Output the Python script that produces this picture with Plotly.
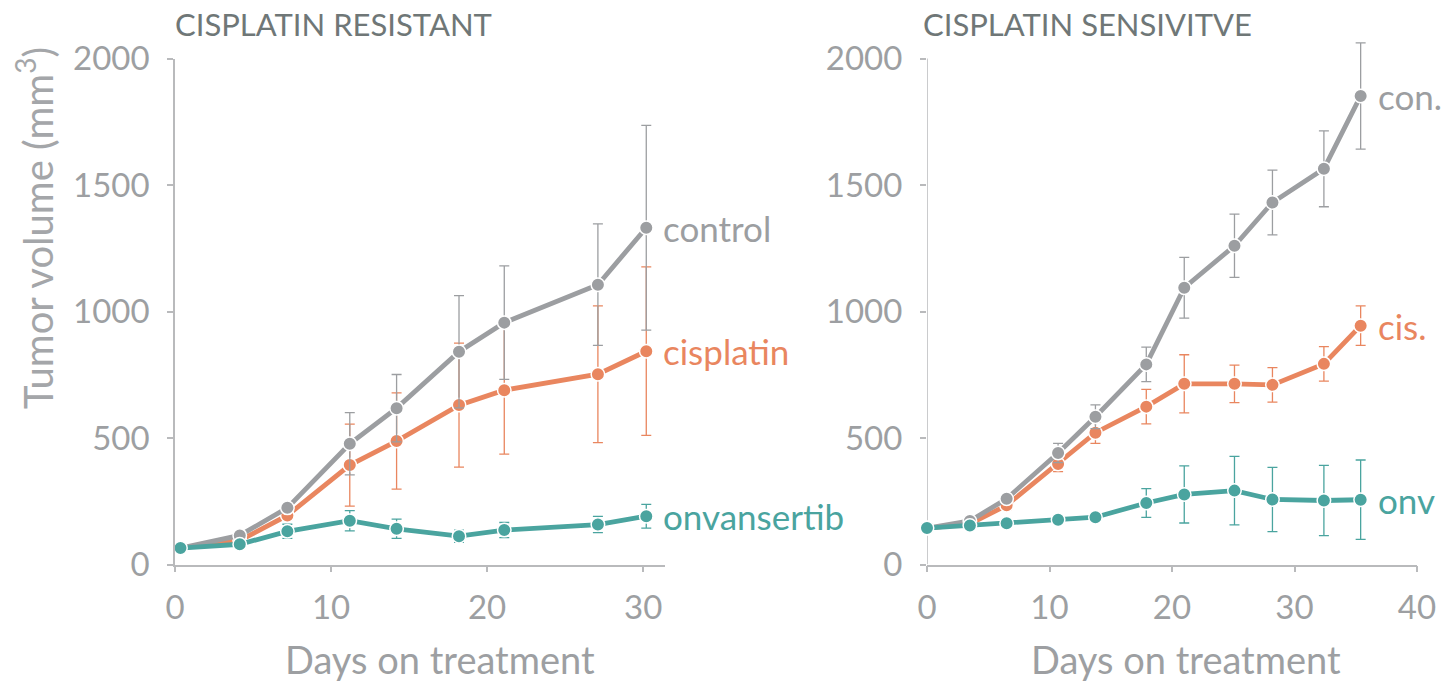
import plotly.graph_objects as go

# ---- Cisplatin-resistant model ----
res_days = [0.35, 4.15, 7.2, 11.2, 14.2, 18.2, 21.1, 27.1, 30.2]
res_control = [65, 115, 224, 477, 618, 841, 956, 1106, 1331]
res_control_err = [0, 8, 12, 123, 133, 222, 224, 240, 405]
res_cis = [65, 95, 194, 393, 488, 630, 689, 752, 843]
res_cis_err = [0, 8, 12, 162, 190, 245, 253, 270, 333]
res_onv = [65, 80, 131, 173, 141, 112, 136, 158, 191]
res_onv_err = [0, 6, 28, 40, 38, 24, 30, 32, 47]

# ---- Cisplatin-sensitive model ----
sen_days = [0, 3.5, 6.5, 10.7, 13.75, 17.9, 21.0, 25.1, 28.2, 32.4, 35.4]
sen_control = [144, 172, 260, 441, 584, 791, 1094, 1260, 1431, 1564, 1852]
sen_control_err = [0, 6, 12, 38, 47, 68, 120, 125, 128, 150, 210]
sen_cis = [144, 160, 234, 397, 521, 624, 714, 714, 710, 793, 944]
sen_cis_err = [0, 6, 18, 30, 42, 68, 115, 74, 68, 68, 78]
sen_onv = [144, 154, 163, 177, 187, 243, 277, 292, 257, 253, 256]
sen_onv_err = [0, 0, 0, 0, 0, 57, 113, 135, 127, 139, 157]

res_labels = ["control", "cisplatin", "onvansertib"]
sen_labels = ["con.", "cis.", "onv"]
panel_titles = ["CISPLATIN RESISTANT", "CISPLATIN SENSIVITVE"]
y_ticks = [0, 500, 1000, 1500, 2000]
Y_MAX = 2000
Y2_HEADROOM = 80  # room above the top tick for the last error bar

GRAY = "#9c9ea1"
ORANGE = "#e9865f"
TEAL = "#4aa49f"
AXIS = "#b9babc"
TICKTXT = "#9d9fa2"
FONT = "Lato"

W, H = 1447, 685
PLOT_TOP, PLOT_BOTTOM = 58.5, 564.5


def px(x):
    return x / W


def py(y):
    return 1 - y / H


fig = go.Figure()


def add_series(days, vals, errs, color, xa, ya):
    fig.add_trace(go.Scatter(
        x=days, y=vals, mode="lines+markers",
        line=dict(color=color, width=4.8),
        marker=dict(size=13.5, color=color, line=dict(color="white", width=1.5)),
        error_y=dict(type="data", array=errs, visible=True, color=color,
                     thickness=1.3, width=5),
        xaxis=xa, yaxis=ya, showlegend=False, hoverinfo="x+y",
        cliponaxis=False,
    ))


# orange first, gray over it, teal on top
add_series(res_days, res_cis, res_cis_err, ORANGE, "x", "y")
add_series(res_days, res_control, res_control_err, GRAY, "x", "y")
add_series(res_days, res_onv, res_onv_err, TEAL, "x", "y")
add_series(sen_days, sen_cis, sen_cis_err, ORANGE, "x2", "y2")
add_series(sen_days, sen_control, sen_control_err, GRAY, "x2", "y2")
add_series(sen_days, sen_onv, sen_onv_err, TEAL, "x2", "y2")

px_per_unit = (PLOT_BOTTOM - PLOT_TOP) / Y_MAX
ydom = [py(PLOT_BOTTOM), py(PLOT_TOP)]
ydom2 = [py(PLOT_BOTTOM), py(PLOT_TOP - Y2_HEADROOM * px_per_unit)]

axis_common = dict(
    linecolor=AXIS, linewidth=1.5,
    ticks="outside", ticklen=6, tickcolor=AXIS, tickwidth=1.5,
    showgrid=False, zeroline=False, automargin=False,
    tickfont=dict(family=FONT, size=33, color=TICKTXT),
)

fig.update_layout(
    width=W, height=H,
    margin=dict(l=0, r=0, t=0, b=0, autoexpand=False),
    paper_bgcolor="white", plot_bgcolor="white",
    xaxis=dict(domain=[px(175), px(665)], range=[0, 31.4],
               tickvals=[0, 10, 20, 30], anchor="y", showline=True,
               ticklabelstandoff=7, **axis_common),
    yaxis=dict(domain=ydom, range=[0, Y_MAX], tickvals=y_ticks,
               anchor="x", showline=True, ticklabelstandoff=11, **axis_common),
    xaxis2=dict(domain=[px(927), px(1417)], range=[0, 40],
                tickvals=[0, 10, 20, 30, 40], anchor="y2", showline=True,
                ticklabelstandoff=7, **axis_common),
    yaxis2=dict(domain=ydom2, range=[0, Y_MAX + Y2_HEADROOM], tickvals=y_ticks,
                anchor="x2", showline=False, ticklabelstandoff=11,
                **axis_common),
)

# right-hand y-axis line, stopping at the top tick
fig.add_shape(type="line", xref="x2", yref="y2", x0=0, x1=0, y0=0, y1=Y_MAX,
              line=dict(color=AXIS, width=1.5), layer="below")

annotations = []

# series names beside the last point of each line
for xa, ya, days, series, names in [
    ("x", "y", res_days, [res_control, res_cis, res_onv], res_labels),
    ("x2", "y2", sen_days, [sen_control, sen_cis, sen_onv], sen_labels),
]:
    for vals, name, color in zip(series, names, [GRAY, ORANGE, TEAL]):
        annotations.append(dict(
            x=days[-1], y=vals[-1], xref=xa, yref=ya,
            text=name, showarrow=False, xanchor="left", yanchor="middle",
            xshift=15, font=dict(family=FONT, size=35, color=color),
        ))

# panel titles
for title, xpix in zip(panel_titles, [173, 921]):
    annotations.append(dict(
        x=px(xpix), y=py(24), xref="paper", yref="paper", text=title,
        showarrow=False, xanchor="left", yanchor="middle",
        font=dict(family=FONT, size=31, color="#6f7777"),
    ))

# x-axis titles
for xc in [440, 1186]:
    annotations.append(dict(
        x=px(xc), y=py(659), xref="paper", yref="paper",
        text="Days on treatment", showarrow=False,
        xanchor="center", yanchor="middle",
        font=dict(family=FONT, size=38, color=TICKTXT),
    ))

# y-axis title
annotations.append(dict(
    x=px(35), y=py(228), xref="paper", yref="paper",
    text="Tumor volume (mm<sup>3</sup>)", showarrow=False, textangle=-90,
    xanchor="center", yanchor="middle",
    font=dict(family=FONT, size=40, color="#a4a6a9"),
))

fig.update_layout(annotations=annotations)

fig.write_html("out.html")
